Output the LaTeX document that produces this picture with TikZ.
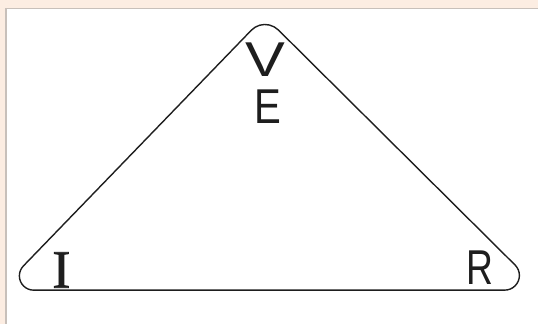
\documentclass[tikz,border=0pt]{standalone}
\usepackage{fontspec}
\setmainfont{Liberation Sans}
\newfontfamily\serifI[FakeBold=1.5]{Liberation Serif}
\usepackage{graphicx}
\definecolor{bgbeige}{RGB}{252,237,226}
\definecolor{framegray}{RGB}{200,192,186}
\definecolor{ink}{RGB}{30,30,30}
\tikzset{
  letter/.style={anchor=base, inner sep=0pt, text=ink, font=\fontsize{49}{49}\selectfont},
  outline/.style={draw=ink, line width=1.4pt, line join=round}
}
\begin{document}
\begin{tikzpicture}[x=1pt,y=1pt]
  % background and frame
  \fill[bgbeige] (0,0) rectangle (539,324);
  \fill[white] (6.5,0) rectangle (539,315.5);
  \draw[framegray, line width=1.3pt] (6,0) -- (6,315.8) -- (539,315.8);
  \useasboundingbox (0,0) rectangle (539,324);

  % tangent points of the rounded triangle
  \coordinate (aR) at (278.7,294.0);
  \coordinate (rU) at (515.7,58.65);
  \coordinate (lB) at (33.7,33.5);
  \coordinate (aL) at (251.6,293.7);

  \draw[outline] (aR) -- (rU)
     arc[start angle=45.1, end angle=-90, radius=14.7]
     -- (lB)
     arc[start angle=-90, end angle=-224, radius=14.3]
     -- (aL)
     arc[start angle=136, end angle=45.2, radius=19]
     -- cycle;

  % letters
  \node[letter] (V) at (265.5,247.3) {\scalebox{1.22}[1]{V}};
  \node[letter] (E) at (268.7,200) {\scalebox{0.82}[1]{E}};
  \node[letter] (I) at (61.5,36) {\serifI\fontsize{54}{54}\selectfont I};
  \node[letter] (R) at (480,39) {\scalebox{0.76}[1]{R}};
\end{tikzpicture}
\end{document}
